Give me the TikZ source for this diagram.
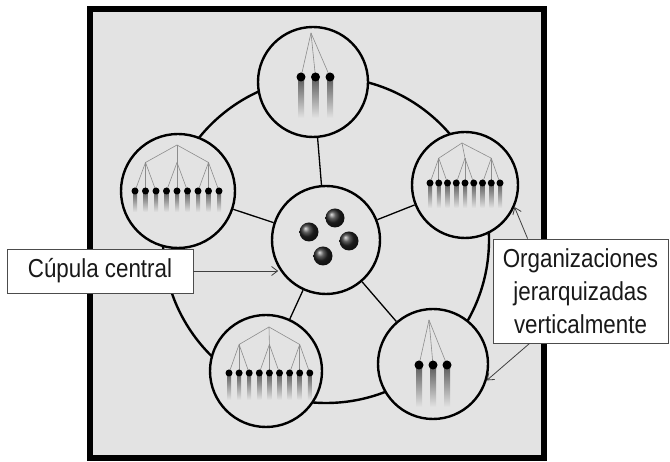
\documentclass[tikz,border=0pt]{standalone}
\usepackage{fontspec}
\usetikzlibrary{arrows.meta}
\newfontfamily\labelfont[FakeStretch=0.86]{Liberation Sans}
\definecolor{paper}{gray}{0.89}
\tikzset{
  ring/.style={circle,draw,line width=2.4pt,fill=paper,inner sep=0pt,minimum size=110pt},
  twig/.style={draw=black!45,line width=0.6pt},
  tail/.style={top color=black!65,bottom color=paper},
  labelbox/.style={draw=black!70,line width=0.8pt,fill=white,inner sep=0pt,align=center,
    text=black!90,font=\labelfont\fontsize{26}{33}\selectfont},
  pointer/.style={draw=black!75,line width=0.8pt,-{Straight Barb[length=6pt,width=9pt]}}
}

\begin{document}
\begin{tikzpicture}[x=1pt,y=1pt]
        \useasboundingbox (0,0) rectangle (670,462);
        \draw[line width=6pt,fill=paper] (90,3.5) rectangle (544,452.5);
        % outer ring, hubs and spokes
        \draw[line width=2.4pt] (326,222) circle (163);
        \node[ring,minimum size=108pt] (central) at (326,222) {};
        \node[ring] (sTop) at (313,380) {};
        \node[ring,minimum size=114pt] (sLeft) at (178,271) {};
        \node[ring,minimum size=106pt] (sRight) at (465,277) {};
        \node[ring,minimum size=112pt] (sBL) at (266,91) {};
        \node[ring] (sBR) at (433,98) {};
        \foreach \s in {sTop,sLeft,sRight,sBL,sBR}
            \draw[line width=1.3pt] (central) -- (\s);
        % domes in the centre
        \foreach \x/\y in {335/244,309/230,349/221,323/206}
            \shade[ball color=black!85] (\x,\y) circle (9.5);
        % small trees
        \foreach \ax/\ay/\x/\y/\d/\t in {311/429/301/385/14.5/344,429/142/419/97/14/55}{
            \foreach \j in {0,1,2}{
                \pgfmathsetmacro{\px}{\x+\d*\j}
                \draw[twig] (\ax,\ay) -- (\px,\y);
                \shade[tail] (\px-3,\y) rectangle (\px+3,\t);
                \fill (\px,\y) circle (4.5);
            }
        }
        % large trees
        \foreach \ax/\ay/\x/\y/\d/\t in {177/317/135/271/10.5/250,462/319/430/279/8.75/254,269/135/229/89/10.1/62}{
            \pgfmathsetmacro{\sy}{\ay-0.38*(\ay-\y)}
            \foreach \k in {0,1,2}{
                \pgfmathsetmacro{\sx}{\x+\d*(3*\k+1)}
                \draw[twig] (\ax,\ay) -- (\sx,\sy);
                \foreach \j in {0,1,2}{
                    \pgfmathsetmacro{\px}{\x+\d*(3*\k+\j)}
                    \draw[twig] (\sx,\sy) -- (\px,\y);
                    \shade[tail] (\px-2,\y) rectangle (\px+2,\t);
                    \fill (\px,\y) circle (3.5);
                }
            }
        }
        % labels
        \node[labelbox,minimum width=186pt,minimum height=44pt] (cupula) at (100,191) {Cúpula central};
        \node[labelbox,minimum width=175pt,minimum height=104pt] (orgs) at (580.5,171)
            {Organizaciones\\jerarquizadas\\verticalmente};
        \draw[pointer] (cupula.east) -- (cupula.east -| central.210);
        \draw[pointer] ([xshift=35pt]orgs.north west) -- (sRight.-24);
        \draw[pointer] ([xshift=37pt]orgs.south west) -- (sBR.-17);
    \end{tikzpicture}
\end{document}
